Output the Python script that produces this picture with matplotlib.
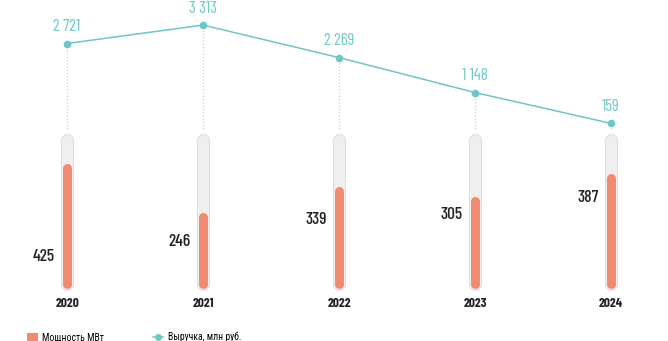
import matplotlib
matplotlib.use("Agg")
import matplotlib.pyplot as plt
from matplotlib.lines import Line2D
from matplotlib.patches import Patch
from matplotlib import font_manager

years = ["2020", "2021", "2022", "2023", "2024"]
power_mw = [425, 246, 339, 305, 387]
revenue = [2721, 3313, 2269, 1148, 159]
power_label_y = [100, 158, 238, 253, 318]   # vertical placement of bar labels (bar units)

names = {f.name for f in font_manager.fontManager.ttflist}
num_prefs = ['Barlow Condensed', 'Roboto Condensed', 'PT Sans Narrow', 'IBM Plex Sans Condensed']
cyr_prefs = ['Roboto Condensed', 'PT Sans Narrow', 'IBM Plex Sans Condensed']
num_fams = [p for p in num_prefs if p in names][:2] + ['DejaVu Sans']
cyr_fams = [p for p in cyr_prefs if p in names][:1] + ['DejaVu Sans']
plt.rcParams['font.family'] = num_fams

ORANGE = "#f08a72"
TEAL = "#6fc6c6"
TRACK = "#efeff2"
TRACK_EDGE = "#dcdcde"

W, H = 668, 341
fig = plt.figure(figsize=(W / 100, H / 100), dpi=100)
ax1 = fig.add_axes([0, 0, 1, 1])
ax2 = ax1.twinx()
for a in (ax1, ax2):
    a.set_axis_off()

x = list(range(len(years)))
ax1.set_xlim(-0.493, 4.42)
ax1.set_ylim(-205.5, 1034.5)
ax2.set_ylim(-6826, 4117)

track_max = 527
px = 0.72  # points per pixel
for i in x:
    ax1.plot([i, i], [0, track_max], color=TRACK_EDGE, lw=13 * px,
             solid_capstyle='round', zorder=1)
    ax1.plot([i, i], [0, track_max], color=TRACK, lw=11 * px,
             solid_capstyle='round', zorder=2)
for i, v in zip(x, power_mw):
    ax1.plot([i, i], [0, v], color=ORANGE, lw=9 * px,
             solid_capstyle='round', zorder=3)
    ax1.annotate(f"{v}", xy=(i, power_label_y[i]), xytext=(-12 * px, 0),
                 textcoords='offset points', ha='right', va='center',
                 fontsize=12.5, fontweight='medium', color="#222222")
    ax1.annotate(years[i], xy=(i, 0), xytext=(0, -19.5 * px),
                 textcoords='offset points', ha='center', va='center',
                 fontsize=9.5, fontweight='bold', color="#222222")

for i, v in zip(x, revenue):
    top_disp = ax1.transData.transform((i, track_max))
    stop = ax2.transData.inverted().transform((top_disp[0], top_disp[1] + 11))[1]
    if stop < v:
        ax2.plot([i, i], [stop, v], color="#cfcfcf", lw=0.9,
                 linestyle=(0, (1, 1.6)), zorder=1)

ax2.plot(x, revenue, color=TEAL, lw=1.1, marker='o', markersize=4.5, zorder=5)
for i, v in zip(x, revenue):
    s = f"{v:,}".replace(",", " ")
    ax2.annotate(s, xy=(i, v), xytext=(0, 17 * px), textcoords='offset points',
                 ha='center', va='center', fontsize=12, color=TEAL)

handles = [Patch(facecolor=ORANGE, edgecolor='none', label="Мощность МВт"),
           Line2D([0], [0], color=TEAL, lw=1.1, marker='o', markersize=4,
                  label="Выручка, млн руб.")]
fig.legend(handles=handles, loc='center left', bbox_to_anchor=(27 / W, 1 - 337 / H),
           ncol=2, frameon=False, prop={'family': cyr_fams, 'size': 7},
           handlelength=1.1, handleheight=0.85,
           handletextpad=0.45, columnspacing=5.0, borderaxespad=0, borderpad=0)

fig.savefig("out.png", dpi=100)
